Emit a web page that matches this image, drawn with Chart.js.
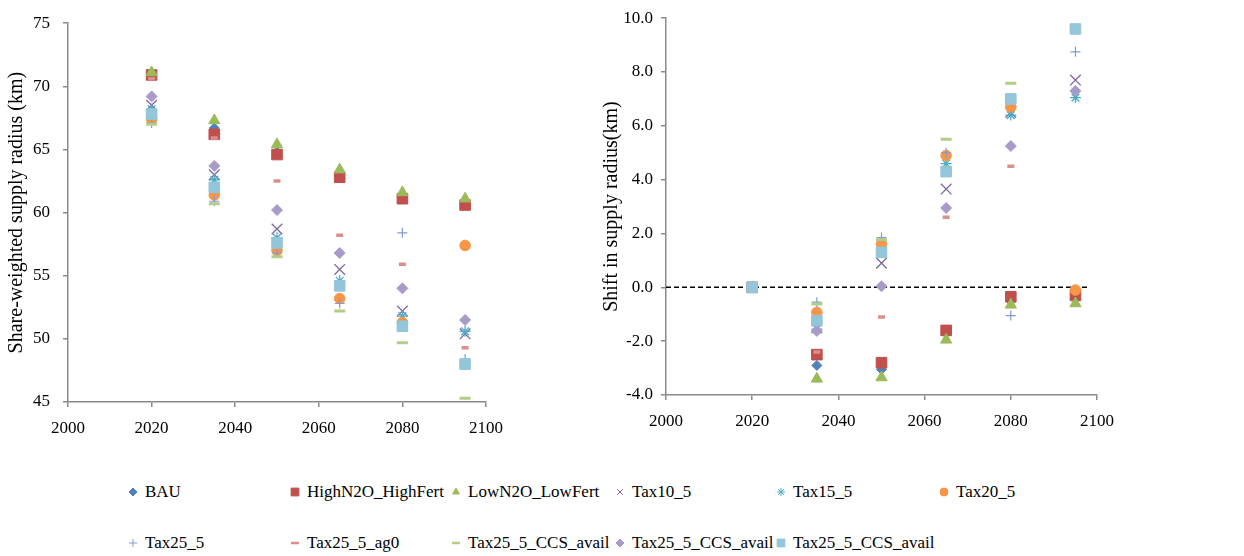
<!DOCTYPE html>
<html>
<head>
<meta charset="utf-8">
<script src="https://cdn.jsdelivr.net/npm/chart.js@4.4.0/dist/chart.umd.min.js"></script>
<style>
  body { margin: 0; background: #fff; width: 1244px; height: 556px; position: relative; overflow: hidden; font-family: "Liberation Serif", serif; }
  #left { position: absolute; left: 0; top: 0; width: 600px; height: 440px; }
  #right { position: absolute; left: 600px; top: 0; width: 644px; height: 440px; }
  .item { position: absolute; height: 22px; line-height: 22px; font-size: 17px; color: #000; white-space: nowrap; }
  .item canvas { position: absolute; top: 0; }
</style>
</head>
<body>
<div id="left"><canvas id="leftChart"></canvas></div>
<div id="right"><canvas id="rightChart"></canvas></div>
<div id="legend"></div>
<script>
// years on the x axis
let years = [2020, 2035, 2050, 2065, 2080, 2095];

let seriesNames = ['BAU', 'HighN2O_HighFert', 'LowN2O_LowFert', 'Tax10_5', 'Tax15_5', 'Tax20_5',
    'Tax25_5', 'Tax25_5_ag0', 'Tax25_5_CCS_avail', 'Tax25_5_CCS_avail', 'Tax25_5_CCS_avail'];

// share-weighted supply radius (km), left chart
let radiusBAU       = [71.0, 66.7, 64.8, 62.9, 61.2, 60.7];
let radiusHighN2O   = [70.9, 66.2, 64.6, 62.8, 61.1, 60.6];
let radiusLowN2O    = [71.1, 67.3, 65.4, 63.4, 61.6, 61.1];
let radiusTax10     = [68.5, 63.0, 58.7, 55.5, 52.2, 50.4];
let radiusTax15     = [68.2, 62.6, 58.0, 54.6, 51.8, 50.6];
let radiusTax20     = [67.4, 61.4, 57.0, 53.2, 51.3, 57.4];
let radiusTax25     = [67.1, 60.9, 56.8, 52.8, 58.4, 48.4];
let radiusAg0       = [70.6, 65.9, 62.5, 58.2, 55.9, 49.3];
let radiusCCSdash   = [67.0, 60.7, 56.5, 52.2, 49.7, 45.3];
let radiusCCSdiam   = [69.2, 63.7, 60.2, 56.8, 54.0, 51.5];
let radiusCCSsquare = [67.8, 62.0, 57.6, 54.2, 51.0, 48.0];

// shift in supply radius (km), right chart
let shiftBAU       = [0, -2.9, -3.05, -1.7, -0.5, -0.4];
let shiftHighN2O   = [0, -2.5, -2.8, -1.6, -0.35, -0.3];
let shiftLowN2O    = [0, -3.4, -3.35, -1.95, -0.65, -0.6];
let shiftTax10     = [0, -1.5, 0.9, 3.65, 6.5, 7.7];
let shiftTax15     = [0, -1.55, 1.3, 4.6, 6.4, 7.05];
let shiftTax20     = [0, -0.93, 1.6, 4.9, 6.7, -0.1];
let shiftTax25     = [0, -0.55, 1.85, 5.0, -1.05, 8.75];
let shiftAg0       = [0, -2.4, -1.1, 2.6, 4.5, null];
let shiftCCSdash   = [0, -0.62, 1.77, 5.5, 7.58, null];
let shiftCCSdiam   = [0, -1.62, 0.04, 2.95, 5.25, 7.3];
let shiftCCSsquare = [0, -1.24, 1.3, 4.3, 7.0, 9.6];

// reference line at zero
let zeroLineX = [2000, 2098];
let zeroLineY = [0, 0];

let leftTicksY = [45, 50, 55, 60, 65, 70, 75];
let rightTicksY = [-4, -2, 0, 2, 4, 6, 8, 10];

let radiusSeries = [radiusBAU, radiusHighN2O, radiusLowN2O, radiusTax10, radiusTax15, radiusTax20,
    radiusTax25, radiusAg0, radiusCCSdash, radiusCCSdiam, radiusCCSsquare];
let shiftSeries = [shiftBAU, shiftHighN2O, shiftLowN2O, shiftTax10, shiftTax15, shiftTax20,
    shiftTax25, shiftAg0, shiftCCSdash, shiftCCSdiam, shiftCCSsquare];

// marker look for each series
let markers = [
    { style: 'rectRot',  color: '#4F81BD', radius: 5,   border: 1 },
    { style: 'rect',     color: '#C0504D', radius: 7.5, border: 1 },
    { style: 'triangle', color: '#9BBB59', radius: 6.5, border: 1 },
    { style: 'crossRot', color: '#8064A2', radius: 7.5, border: 1.3 },
    { style: 'star',     color: '#4BACC6', radius: 5.5, border: 1.3 },
    { style: 'circle',   color: '#F79646', radius: 5.3, border: 1 },
    { style: 'cross',    color: '#7F9BD6', radius: 5,   border: 1.2 },
    { style: 'line',     color: '#DA8F8D', radius: 3.5, border: 3.5 },
    { style: 'line',     color: '#B3CD86', radius: 5.5, border: 3 },
    { style: 'rectRot',  color: '#A99BC8', radius: 5.5, border: 1 },
    { style: 'rect',     color: '#93C6D9', radius: 7.5, border: 1 }
];

Chart.defaults.font.family = "'Liberation Serif', serif";
Chart.defaults.color = '#000';

function makeDatasets(seriesList) {
    return seriesList.map(function(values, i) {
        let m = markers[i];
        return {
            label: seriesNames[i],
            data: years.map(function(yr, j) { return { x: yr, y: values[j] }; }),
            pointStyle: m.style,
            pointRadius: m.radius,
            pointBorderWidth: m.border,
            pointBackgroundColor: m.color,
            pointBorderColor: m.color,
            order: seriesList.length - i
        };
    });
}

function axisX(height) {
    return {
        type: 'linear', min: 2000, max: 2100,
        ticks: { stepSize: 20, padding: 11, font: { size: 17 }, callback: function(v) { return String(v); } },
        grid: { drawOnChartArea: false, drawTicks: true, tickLength: 5, color: '#8a8a8a', lineWidth: 1.5 },
        border: { color: '#8a8a8a', width: 1.5 },
        afterFit: function(s) { s.height = height; }
    };
}

function axisY(min, max, step, width, title, titlePad, tickPad, decimals) {
    return {
        type: 'linear', min: min, max: max,
        ticks: { stepSize: step, padding: tickPad, font: { size: 17 },
            callback: function(v) { return decimals ? v.toFixed(1) : String(v); } },
        grid: { drawOnChartArea: false, drawTicks: true, tickLength: 5, color: '#8a8a8a', lineWidth: 1.5 },
        border: { color: '#8a8a8a', width: 1.5 },
        title: { display: true, text: title, font: { size: 20 }, padding: { top: titlePad, bottom: 0 }, color: '#000' },
        afterFit: function(s) { s.width = width; }
    };
}

let commonPlugins = { legend: { display: false }, tooltip: { enabled: false } };

new Chart(document.getElementById('leftChart'), {
    type: 'scatter',
    data: { datasets: makeDatasets(radiusSeries) },
    options: {
        responsive: true, maintainAspectRatio: false, animation: false,
        layout: { padding: { left: 0, right: 114, top: 22, bottom: 0 } },
        plugins: commonPlugins,
        scales: {
            x: axisX(38),
            y: axisY(leftTicksY[0], leftTicksY[leftTicksY.length - 1], 5, 68,
                'Share-weighted supply radius (km)', 5, 13, false)
        }
    }
});

let rightSets = makeDatasets(shiftSeries);
rightSets.push({
    type: 'line',
    label: 'zero',
    data: zeroLineX.map(function(x, i) { return { x: x, y: zeroLineY[i] }; }),
    borderColor: '#000',
    borderWidth: 1.5,
    borderDash: [5, 3],
    pointRadius: 0,
    order: 20
});

new Chart(document.getElementById('rightChart'), {
    type: 'scatter',
    data: { datasets: rightSets },
    options: {
        responsive: true, maintainAspectRatio: false, animation: false,
        layout: { padding: { left: 0, right: 147, top: 16, bottom: 0 } },
        plugins: commonPlugins,
        scales: {
            x: axisX(45),
            y: axisY(rightTicksY[0], rightTicksY[rightTicksY.length - 1], 2, 66,
                'Shift in supply radius(km)', 0, 8, true)
        }
    }
});

// shared legend under both charts, two rows of six columns
let legendCols = [145, 307, 468, 632, 793, 956];
let legendRows = [492, 543];
let legend = document.getElementById('legend');
seriesNames.forEach(function(name, i) {
    let m = markers[i];
    let div = document.createElement('div');
    div.className = 'item';
    let left = legendCols[i % 6];
    let top = legendRows[Math.floor(i / 6)];
    div.style.left = left + 'px';
    div.style.top = (top - 11) + 'px';
    div.textContent = name;
    let c = document.createElement('canvas');
    c.width = 14; c.height = 22;
    c.style.left = '-19px';
    let ctx = c.getContext('2d');
    ctx.fillStyle = m.color;
    ctx.strokeStyle = m.color;
    ctx.lineWidth = m.style === 'line' ? 2.5 : 1;
    Chart.helpers.drawPoint(ctx, {
        pointStyle: m.style,
        radius: m.style === 'line' ? 4 : (m.style === 'rect' ? 5.5 : 4),
        rotation: 0,
        borderWidth: ctx.lineWidth
    }, 7, 11);
    div.appendChild(c);
    legend.appendChild(div);
});
</script>
</body>
</html>
